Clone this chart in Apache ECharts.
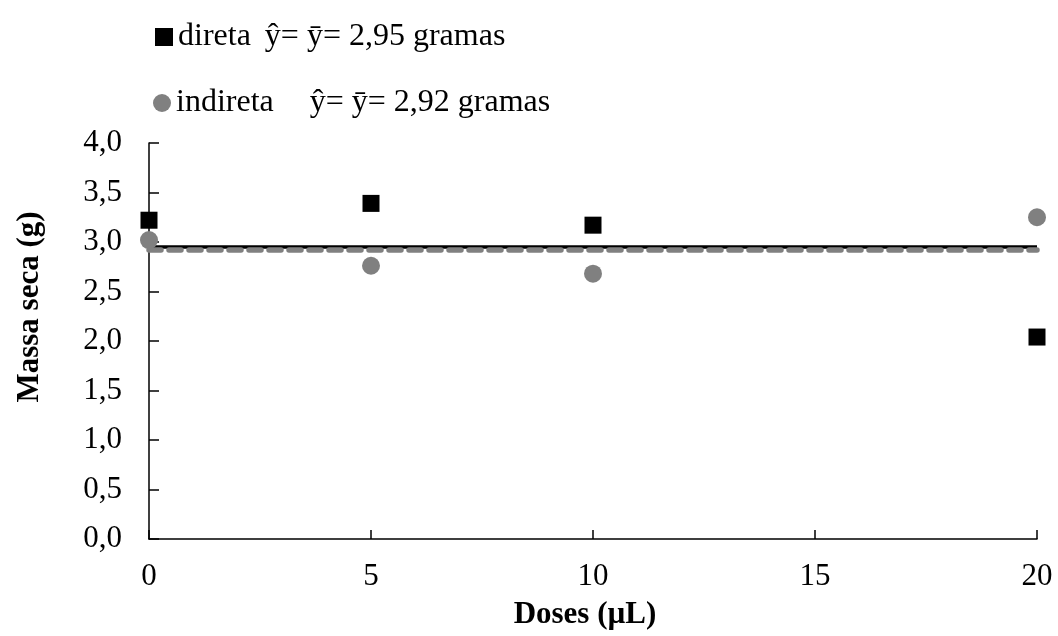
<!DOCTYPE html>
<html>
<head>
<meta charset="utf-8">
<script src="https://cdn.jsdelivr.net/npm/echarts@6/dist/echarts.min.js"></script>
<style>
html, body { margin: 0; padding: 0; background: #fff; }
#chart { width: 1058px; height: 636px; }
</style>
</head>
<body>
<div id="chart"></div>
<script>
// doses (µL)
var doses = [0, 5, 10, 20]
// massa seca (g)
var direta = [3.22, 3.39, 3.17, 2.04]
var indireta = [3.02, 2.76, 2.68, 3.25]
// médias
var mediaDireta = 2.95
var mediaIndireta = 2.92
var xRange = [0, 20]

var fonte = '"Liberation Serif", "Times New Roman", serif'

function pares (xs, ys) {
  return xs.map(function (x, i) { return [x, ys[i]] })
}
function linhaMedia (v) {
  return xRange.map(function (x) { return [x, v] })
}

var myChart = echarts.init(document.getElementById('chart'))
var option = {
  animation: false,
  backgroundColor: '#fff',
  textStyle: { fontFamily: fonte, color: '#000' },
  grid: { left: 149, right: 21, top: 143, bottom: 97 },
  legend: [{
    left: 150,
    top: 16,
    itemWidth: 18,
    itemHeight: 18,
    data: [{ name: 'direta', icon: 'rect' }],
    formatter: function () { return '{n|direta}{e|ŷ= ȳ= 2,95 gramas}' },
    textStyle: {
      fontFamily: fonte,
      rich: {
        n: { fontFamily: fonte, fontSize: 32, color: '#000' },
        e: { fontFamily: fonte, fontSize: 32, color: '#000', padding: [0, 0, 0, 14] }
      }
    }
  }, {
    left: 148,
    top: 82,
    itemWidth: 18,
    itemHeight: 18,
    data: [{ name: 'indireta', icon: 'circle' }],
    formatter: function () { return '{n|indireta}{e|ŷ= ȳ= 2,92 gramas}' },
    textStyle: {
      fontFamily: fonte,
      rich: {
        n: { fontFamily: fonte, fontSize: 32, color: '#000' },
        e: { fontFamily: fonte, fontSize: 32, color: '#000', padding: [0, 0, 0, 36] }
      }
    }
  }],
  xAxis: {
    type: 'value',
    min: 0,
    max: 20,
    interval: 5,
    name: 'Doses (µL)',
    nameLocation: 'middle',
    nameGap: 60,
    nameTextStyle: { fontFamily: fonte, fontSize: 31, fontWeight: 'bold', color: '#000', padding: [0, 16, 0, 0] },
    axisLine: { lineStyle: { color: '#000', width: 1.5 } },
    axisTick: { inside: true, length: 9, lineStyle: { color: '#000', width: 1.5 } },
    axisLabel: { fontFamily: fonte, fontSize: 31, color: '#000', margin: 22 },
    splitLine: { show: false }
  },
  yAxis: {
    type: 'value',
    min: 0,
    max: 4,
    interval: 0.5,
    name: 'Massa seca (g)',
    nameLocation: 'middle',
    nameGap: 104,
    nameTextStyle: { fontFamily: fonte, fontSize: 31, fontWeight: 'bold', color: '#000', padding: [0, 0, 0, 68] },
    axisLine: { show: true, lineStyle: { color: '#000', width: 1.5 } },
    axisTick: { show: true, inside: true, length: 10, lineStyle: { color: '#000', width: 1.5 } },
    axisLabel: {
      fontFamily: fonte,
      fontSize: 31,
      color: '#000',
      margin: 27,
      formatter: function (v) { return v.toFixed(1).replace('.', ',') }
    },
    splitLine: { show: false }
  },
  series: [{
    name: 'media direta',
    type: 'line',
    data: linhaMedia(mediaDireta),
    symbol: 'none',
    lineStyle: { color: '#000', width: 3.5 },
    z: 2
  }, {
    name: 'media indireta',
    type: 'line',
    data: linhaMedia(mediaIndireta),
    symbol: 'none',
    lineStyle: { color: '#808080', width: 5.5, type: [12, 8], cap: 'round' },
    z: 3
  }, {
    name: 'direta',
    type: 'scatter',
    data: pares(doses, direta),
    symbol: 'rect',
    symbolSize: 17,
    itemStyle: { color: '#000', opacity: 1 },
    z: 4
  }, {
    name: 'indireta',
    type: 'scatter',
    data: pares(doses, indireta),
    symbol: 'circle',
    symbolSize: 18,
    itemStyle: { color: '#808080', opacity: 1 },
    z: 5
  }]
}
myChart.setOption(option)
window.addEventListener('resize', function () {
  myChart.resize()
})
</script>
</body>
</html>
